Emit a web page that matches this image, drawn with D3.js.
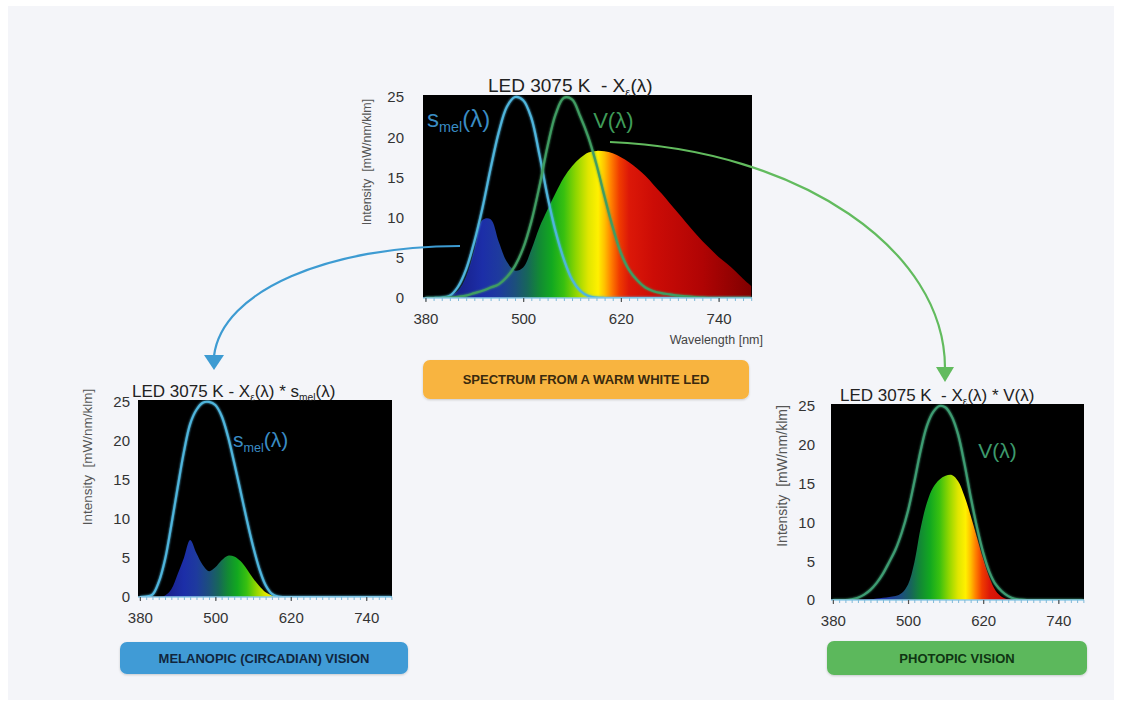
<!DOCTYPE html>
<html><head><meta charset="utf-8">
<script src="https://cdn.jsdelivr.net/npm/d3@7"></script>
<style>
html,body{margin:0;padding:0;background:#fff;}
svg{display:block;font-family:"Liberation Sans",Arial,sans-serif;}
text{white-space:pre;}
</style></head><body>
<svg id="c" width="1121" height="704"></svg>
<script>
// ---------------- DATA ----------------
const wavelengths = [380,390,400,410,420,430,440,450,460,470,480,490,500,510,520,530,540,550,560,570,580,590,600,610,620,630,640,650,660,670,680,690,700,710,720,730,740,750,760,770,780];
// LED 3075 K spectrum X(λ)  [mW/nm/klm]
const ledSpectrum = [0,0,0.1,0.3,0.9,2.7,6.0,9.7,9.8,7.0,4.5,3.4,3.8,6.0,8.8,11.0,13.1,15.0,16.4,17.4,18.1,18.3,18.25,18.0,17.5,16.9,16.1,15.2,14.1,13.0,11.8,10.6,9.4,8.2,7.1,6.1,5.1,4.3,3.4,2.4,1.5];
// s_mel(λ) and V(λ) as drawn in the top chart (scaled to 25)
const smelTop = [0,0,0.05,0.3,1.4,3.6,7.0,11.2,16.1,20.6,23.8,25.0,24.6,22.4,17.8,12.6,8.2,4.8,2.3,0.9,0.25,0.05,0,0,0,0,0,0,0,0,0,0,0,0,0,0,0,0,0,0,0];
const vTop = [0,0,0,0.05,0.15,0.3,0.6,0.9,1.3,1.7,2.6,4.0,6.2,9.5,13.9,18.9,22.9,24.9,24.7,22.6,20.0,16.6,12.6,8.8,5.6,3.5,2.2,1.3,0.85,0.6,0.45,0.3,0.2,0.1,0.05,0,0,0,0,0,0];
// X(λ) * s_mel(λ)  (bottom left)
const melanopicWeighted = [0,0,0,0,0.2,1.0,2.9,5.0,7.3,5.6,4.1,3.3,3.8,4.7,5.3,5.2,4.6,3.6,2.4,1.4,0.6,0.2,0.05,0,0,0,0,0,0,0,0,0,0,0,0,0,0,0,0,0,0];
const smelBottom = [0,0.05,0.3,1.9,4.8,9.2,14.0,18.6,22.2,24.0,24.9,25.0,24.6,23.2,20.6,17.2,13.6,9.9,6.5,3.6,1.5,0.4,0.05,0,0,0,0,0,0,0,0,0,0,0,0,0,0,0,0,0,0];
// X(λ) * V(λ)  (bottom right)
const photopicWeighted = [0,0,0,0,0,0.05,0.1,0.2,0.3,0.4,0.5,0.9,2.0,4.8,9.2,12.5,14.5,15.5,16.0,16.1,15.3,13.4,10.9,8.1,5.3,2.9,1.2,0.4,0.1,0,0,0,0,0,0,0,0,0,0,0,0];
const vBottom = [0,0,0,0.1,0.3,0.7,1.3,2.2,3.4,4.9,6.5,8.7,11.5,15.2,19.2,22.4,24.2,25.0,24.8,23.6,21.3,17.6,13.3,9.4,6.1,3.6,2.0,1.1,0.5,0.15,0.05,0,0,0,0,0,0,0,0,0,0];
// Axis ticks
const xTickLabels = [380,500,620,740];
const yTickLabels = [0,5,10,15,20,25];
// Text
const boxLabels = ["SPECTRUM FROM A WARM WHITE LED","MELANOPIC (CIRCADIAN) VISION","PHOTOPIC VISION"];
const yAxisTitle = "Intensity  [mW/nm/klm]";
const xAxisTitle = "Wavelength [nm]";

// ---------------- STYLE ----------------
const spectrumStops = [
  [380,"#140a4a"],[420,"#18208a"],[450,"#1c2ea8"],[470,"#1e3a9e"],[490,"#1c4f7c"],
  [505,"#17665a"],[520,"#128a34"],[535,"#12a820"],[550,"#38c010"],[565,"#90d600"],
  [580,"#e0e600"],[592,"#fff000"],[600,"#ffc000"],[608,"#ff8000"],[618,"#f03c00"],
  [630,"#dc1808"],[660,"#cc0c06"],[720,"#b00404"],[780,"#800000"]
];
const BLUE_LINE = "#4fb5dc", GREEN_LINE = "#3f9c62";

const svg = d3.select("#c");
svg.append("rect").attr("width",1121).attr("height",704).attr("fill","#ffffff");
svg.append("rect").attr("x",8).attr("y",6).attr("width",1106).attr("height",694).attr("fill","#f4f5f9");
const defs = svg.append("defs");
const glow = defs.append("filter").attr("id","glow").attr("x","-10%").attr("y","-10%").attr("width","120%").attr("height","120%");
glow.append("feGaussianBlur").attr("stdDeviation",1.3).attr("result","b");
const gm = glow.append("feMerge"); gm.append("feMergeNode").attr("in","b"); gm.append("feMergeNode").attr("in","SourceGraphic");
const shadow = defs.append("filter").attr("id","shadow").attr("x","-5%").attr("y","-20%").attr("width","110%").attr("height","150%");
shadow.append("feDropShadow").attr("dx",0).attr("dy",1).attr("stdDeviation",1.2).attr("flood-color","#000").attr("flood-opacity",0.18);

function makeData(vals){ return wavelengths.map((w,i)=>({wl:w, v:vals[i]})); }

const charts = [
  {id:"top", left:423, top:95, width:329, height:203, fill:ledSpectrum,
   lines:[{values:smelTop,color:BLUE_LINE},{values:vTop,color:GREEN_LINE}],
   title:[{t:"LED 3075 K  - X"},{t:"ε",sub:true},{t:"(λ)"}], titleX:488, titleY:92, titleSize:19,
   yPad:19, yTitleX:367, yTitleY:162, yTitleSize:12.5,
   notes:[{parts:[{t:"s"},{t:"mel",sub:true},{t:"(λ)"}], wl:382, v:21.3, size:24, color:"#3a8cc4"},
          {parts:[{t:"V(λ)"}], wl:586, v:21.1, size:22, color:"#3f9b58"}]},
  {id:"mel", left:138, top:400, width:254, height:197, fill:melanopicWeighted,
   lines:[{values:smelBottom,color:BLUE_LINE}],
   title:[{t:"LED 3075 K - X"},{t:"ε",sub:true},{t:"(λ) * s"},{t:"mel",sub:true},{t:"(λ)"}], titleX:132, titleY:397, titleSize:17,
   yPad:8, yTitleX:87, yTitleY:457, yTitleSize:13.5,
   notes:[{parts:[{t:"s"},{t:"mel",sub:true},{t:"(λ)"}], wl:528, v:19.2, size:21, color:"#3a8cc4"}]},
  {id:"pho", left:831, top:404, width:253, height:196, fill:photopicWeighted,
   lines:[{values:vBottom,color:"#3e9c72"}],
   title:[{t:"LED 3075 K  - X"},{t:"ε",sub:true},{t:"(λ) * V(λ)"}], titleX:840, titleY:401, titleSize:17,
   yPad:16, yTitleX:782, yTitleY:476, yTitleSize:14,
   notes:[{parts:[{t:"V(λ)"}], wl:612, v:18.3, size:21, color:"#3d9a6c"}]}
];

function richText(sel, parts, size){
  parts.forEach((p,i)=>{
    const ts = sel.append("tspan").text(p.t);
    if(p.sub){ ts.attr("font-size", size*0.6).attr("dy", size*0.22); }
    else { ts.attr("font-size", size); if(i>0 && parts[i-1].sub) ts.attr("dy", -size*0.22); }
  });
}

charts.forEach(c=>{
  const g = svg.append("g").attr("transform",`translate(${c.left},${c.top})`);
  const x = d3.scaleLinear().domain([377,781]).range([0,c.width]);
  const y = d3.scaleLinear().domain([0,25.25]).range([c.height,0]);

  g.append("rect").attr("width",c.width).attr("height",c.height).attr("fill","#000");
  defs.append("clipPath").attr("id","clip-"+c.id).append("rect").attr("width",c.width).attr("height",c.height);

  const grad = defs.append("linearGradient").attr("id","grad-"+c.id)
    .attr("gradientUnits","userSpaceOnUse").attr("x1",x(380)).attr("x2",x(780)).attr("y1",0).attr("y2",0);
  spectrumStops.forEach(s=>grad.append("stop").attr("offset",(s[0]-380)/400).attr("stop-color",s[1]));

  const plot = g.append("g").attr("clip-path",`url(#clip-${c.id})`);
  const curve = d3.curveCatmullRom.alpha(0.5);
  const area = d3.area().x(d=>x(d.wl)).y0(y(0)).y1(d=>y(Math.max(0,d.v))).curve(curve);
  plot.append("path").datum(makeData(c.fill)).attr("d",area).attr("fill",`url(#grad-${c.id})`);

  const line = d3.line().x(d=>x(d.wl)).y(d=>y(d.v)).curve(curve);
  c.lines.forEach(l=>{
    plot.append("path").datum(makeData(l.values)).attr("d",line).attr("fill","none")
      .attr("stroke",l.color).attr("stroke-width",2.2).attr("filter","url(#glow)");
  });

  // bottom axis: light blue baseline with minor ticks
  const axG = g.append("g").attr("transform",`translate(0,${c.height})`);
  axG.append("line").attr("x1",0).attr("x2",c.width).attr("stroke","#8fcbe8").attr("stroke-width",1.6);
  const minor = d3.axisBottom(x).tickValues(d3.range(380,781,10)).tickSize(3).tickFormat("");
  const mg = axG.append("g").call(minor);
  mg.select(".domain").remove();
  mg.selectAll("line").attr("stroke","#7fb9d8").attr("stroke-width",1);
  const major = d3.axisBottom(x).tickValues(xTickLabels).tickSize(4).tickPadding(11);
  const jg = axG.append("g").call(major);
  jg.select(".domain").remove();
  jg.selectAll("line").attr("stroke","#555").attr("stroke-width",1.2);
  jg.selectAll("text").attr("fill","#333").attr("font-size",15).attr("font-family","Liberation Sans, Arial, sans-serif");

  const yAx = d3.axisLeft(y).tickValues(yTickLabels).tickSize(0).tickPadding(c.yPad);
  const yg = g.append("g").call(yAx);
  yg.select(".domain").remove();
  yg.selectAll("text").attr("fill","#333").attr("font-size",15).attr("font-family","Liberation Sans, Arial, sans-serif");

  // titles
  const tt = svg.append("text").attr("x",c.titleX).attr("y",c.titleY).attr("fill","#222");
  richText(tt, c.title, c.titleSize);

  svg.append("text").attr("transform",`translate(${c.yTitleX},${c.yTitleY}) rotate(-90)`)
    .attr("text-anchor","middle").attr("dy","0.35em").attr("font-size",c.yTitleSize).attr("fill","#555").text(yAxisTitle);

  c.notes.forEach(n=>{
    const t = g.append("text").attr("x",x(n.wl)).attr("y",y(n.v)).attr("fill",n.color);
    richText(t, n.parts, n.size);
  });

  if(c.id==="top"){
    g.append("text").attr("x",c.width+11).attr("y",c.height+46).attr("text-anchor","end")
      .attr("font-size",12.5).attr("fill","#444").text(xAxisTitle);
  }
});

// arrows
svg.append("path").attr("d","M460,246 C330,246 222,290 214,356").attr("fill","none")
  .attr("stroke","#3d9bd2").attr("stroke-width",2.2);
svg.append("path").attr("d","M204,355 L224,355 L214,370 Z").attr("fill","#3d9bd2");
svg.append("path").attr("d","M610,142 C800,150 945,250 945,368").attr("fill","none")
  .attr("stroke","#62bb5e").attr("stroke-width",2.2);
svg.append("path").attr("d","M936,367 L954,367 L945,382 Z").attr("fill","#62bb5e");

// label boxes
const boxes = [
  {x:423,y:360,w:326,h:39,fill:"#f8b440",color:"#3a2a0e"},
  {x:120,y:642,w:288,h:32,fill:"#3f9bd6",color:"#11263d"},
  {x:827,y:641,w:260,h:34,fill:"#5cb85c",color:"#0f3513"}
];
boxes.forEach((b,i)=>{
  svg.append("rect").attr("x",b.x).attr("y",b.y).attr("width",b.w).attr("height",b.h)
    .attr("rx",7).attr("fill",b.fill).attr("filter","url(#shadow)");
  svg.append("text").attr("x",b.x+b.w/2).attr("y",b.y+b.h/2).attr("dy","0.36em")
    .attr("text-anchor","middle").attr("font-size",13).attr("font-weight","bold")
    .attr("fill",b.color).text(boxLabels[i]);
});
</script>
</body></html>
